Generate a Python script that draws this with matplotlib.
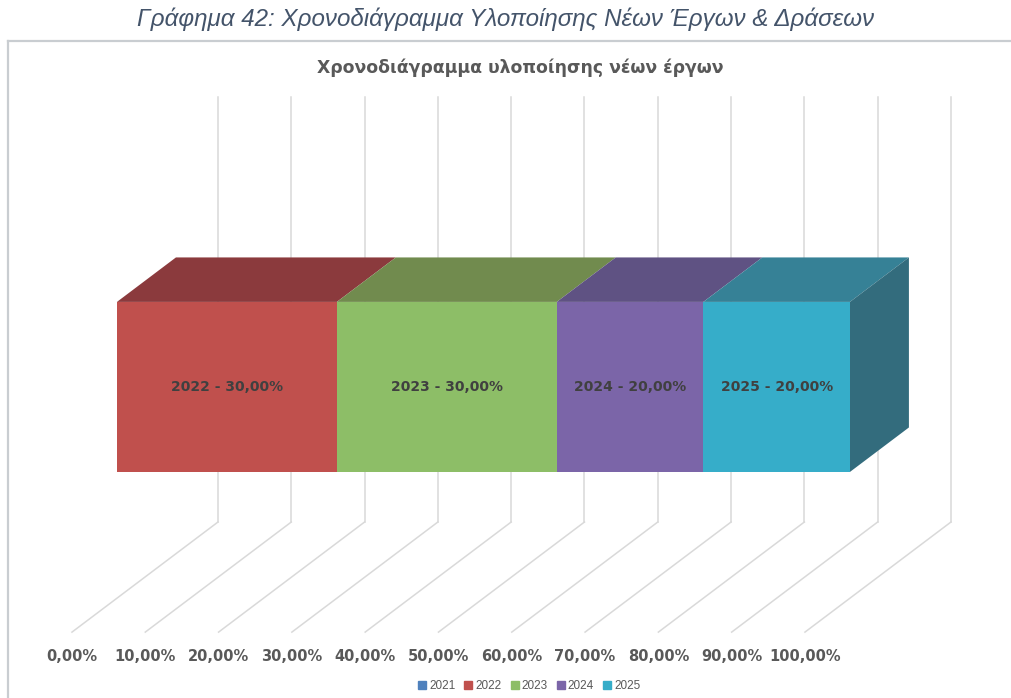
import matplotlib
matplotlib.use("Agg")
import matplotlib.pyplot as plt
from matplotlib.patches import Polygon
from matplotlib.lines import Line2D

# data
years = ['2021', '2022', '2023', '2024', '2025']
shares = [0, 30, 30, 20, 20]          # percent of new projects per year
tick_values = [0, 10, 20, 30, 40, 50, 60, 70, 80, 90, 100]

front_colors = ['#4F81BD', '#C0504D', '#8DBE67', '#7B65A8', '#36ADC9']
top_colors = ['#3A5F8C', '#8B3A3D', '#718B4E', '#5F5283', '#368196']
side_colors = ['#2F4D72', '#6E2E30', '#5A703E', '#4B4168', '#336C7D']

# oblique "3D" frame: x in percent on the back wall, y in wall heights
DX, DY = -19.92, -0.259        # full floor depth vector
BAR_D0, BAR_D1 = 0.288, 0.692  # bar depth (back, front)
BAR_Z0, BAR_Z1 = 0.297, 0.697  # bar height above the floor


def proj(x, d, z):
    return (x + d * DX, z + d * DY)


fig = plt.figure(figsize=(10.11, 6.98), dpi=100)
ax = fig.add_axes([0, 0, 1, 1])
ax.set_xlim(-29.74, 108.19)
ax.set_ylim(-0.414, 1.228)
ax.axis('off')

grid_kw = dict(color='#D9D9D9', lw=1.1, zorder=1)
for t in tick_values:
    ax.plot([t, t], [0, 1], **grid_kw)
    x0, y0 = proj(t, 0, 0)
    x1, y1 = proj(t, 1, 0)
    ax.plot([x0, x1], [y0, y1], **grid_kw)
    ax.text(x1, y1 - 0.058, '{:.2f}%'.format(t).replace('.', ','),
            ha='center', va='center', fontsize=10.5, fontweight='bold',
            color='#595959', family='DejaVu Sans')

# stacked 3D bar
left = 0
last = max(i for i, v in enumerate(shares) if v > 0)
for i, (yr, v) in enumerate(zip(years, shares)):
    if v == 0:
        continue
    right = left + v
    front = [proj(left, BAR_D1, BAR_Z0), proj(right, BAR_D1, BAR_Z0),
             proj(right, BAR_D1, BAR_Z1), proj(left, BAR_D1, BAR_Z1)]
    top = [proj(left, BAR_D1, BAR_Z1), proj(right, BAR_D1, BAR_Z1),
           proj(right, BAR_D0, BAR_Z1), proj(left, BAR_D0, BAR_Z1)]
    ax.add_patch(Polygon(top, closed=True, fc=top_colors[i], ec='none', zorder=3))
    ax.add_patch(Polygon(front, closed=True, fc=front_colors[i], ec='none', zorder=4))
    if i == last:
        side = [proj(right, BAR_D1, BAR_Z0), proj(right, BAR_D0, BAR_Z0),
                proj(right, BAR_D0, BAR_Z1), proj(right, BAR_D1, BAR_Z1)]
        ax.add_patch(Polygon(side, closed=True, fc=side_colors[i], ec='none', zorder=3))
    cx, cy = proj((left + right) / 2, BAR_D1, (BAR_Z0 + BAR_Z1) / 2)
    ax.text(cx, cy, '{} - {:.2f}%'.format(yr, v).replace('.', ','),
            ha='center', va='center', fontsize=10, fontweight='bold',
            color='#404040', zorder=5)
    left = right

# chart border (left and top)
fig.add_artist(Line2D([8 / 1011, 8 / 1011], [0, 1 - 41 / 698], color='#C9CDD1',
                      lw=1.6, transform=fig.transFigure))
fig.add_artist(Line2D([8 / 1011, 1], [1 - 41 / 698, 1 - 41 / 698], color='#C9CDD1',
                      lw=1.6, transform=fig.transFigure))

fig.text(0.5, 1 - 19 / 698,
         'Γράφημα 42: Χρονοδιάγραμμα Υλοποίησης Νέων Έργων & Δράσεων',
         ha='center', va='center', fontsize=17.4, style='italic',
         color='#44546A', family='Liberation Sans')
fig.text(0.515, 1 - 68 / 698, 'Χρονοδιάγραμμα υλοποίησης νέων έργων',
         ha='center', va='center', fontsize=12.4, fontweight='bold',
         color='#595959')

handles = [Line2D([], [], marker='s', ls='none', ms=5.5, color=c) for c in front_colors]
fig.legend(handles, years, loc='center', bbox_to_anchor=(0.522, 1 - 686 / 698),
           ncol=5, frameon=False, handletextpad=0.0,
           columnspacing=0.5, handlelength=1.2, labelcolor='#595959',
           prop={'family': 'Liberation Sans', 'size': 8.5})

fig.savefig('out.png', dpi=100)
